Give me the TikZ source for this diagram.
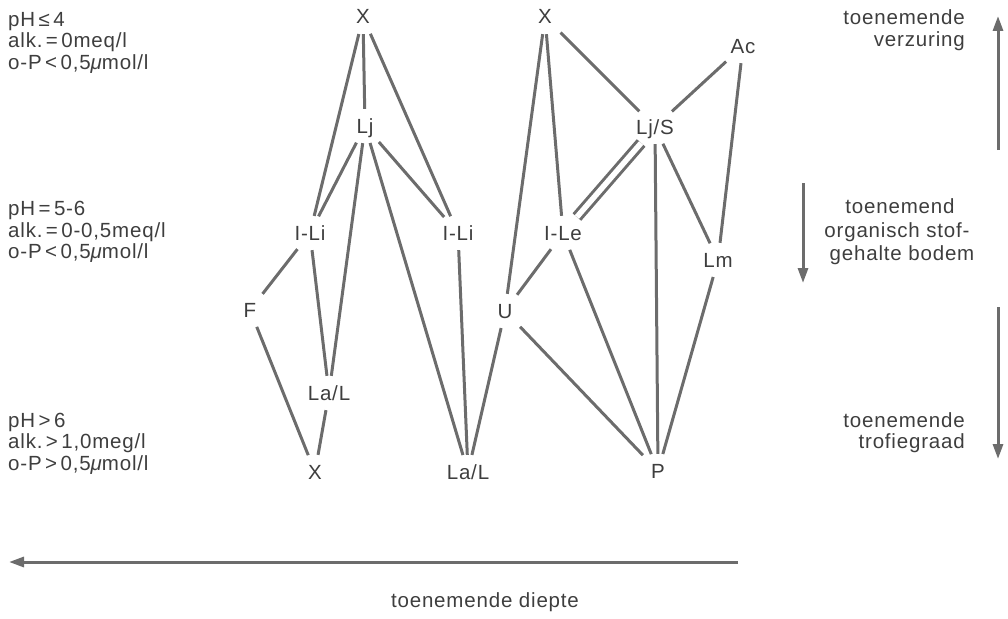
\documentclass[tikz,border=0pt]{standalone}
\usepackage{fontspec}
\setmainfont{Liberation Sans}[LetterSpace=4]
\usetikzlibrary{arrows.meta}
\definecolor{ink}{RGB}{62,62,62}
\definecolor{wire}{RGB}{108,108,108}
\begin{document}
\begin{tikzpicture}[x=1pt,y=-1pt,
  every node/.style={font=\fontsize{20.5}{22}\selectfont, text=ink},
  veg/.style={inner sep=5pt, text height=14pt, text depth=0pt},
  lbl/.style={inner sep=0pt},
  link/.style={draw=wire, line width=3pt, shorten >=5pt, shorten <=5pt},
  dlink/.style={draw=wire, line width=3pt, double=white, double distance=5.5pt, shorten >=5pt, shorten <=5pt},
  arr/.style={draw=wire, line width=3pt, -{Triangle[length=15pt,width=10pt]}}
]
\useasboundingbox (0,0) rectangle (1008,618);

% nodes left group
\node[veg] (X1) at (363,17) {X};
\node[veg] (Lj) at (365,126) {Lj};
\node[veg] (ILi1) at (310,233) {I-Li};
\node[veg] (ILi2) at (458,233) {I-Li};
\node[veg] (F) at (250,310) {F};
\node[veg] (LaL1) at (329,393) {La/L};
\node[veg] (X2) at (315,472) {X};
\node[veg] (LaL2) at (468,472) {La/L};
% nodes right group
\node[veg] (X3) at (545,17) {X};
\node[veg] (Ac) at (743,46) {Ac};
\node[veg] (LjS) at (655,127) {Lj/S};
\node[veg] (ILe) at (563,233) {I-Le};
\node[veg] (Lm) at (718,260) {Lm};
\node[veg] (U) at (505,311) {U};
\node[veg] (P) at (658,471) {P};

% connectors
\draw[link] (X1) -- (Lj);
\draw[link] (X1) -- (ILi1);
\draw[link] (X1) -- (ILi2);
\draw[link] (Lj) -- (ILi1);
\draw[link] (Lj) -- (ILi2);
\draw[link] (Lj) -- (LaL1);
\draw[link] (Lj) -- (LaL2);
\draw[link] (ILi1) -- (F);
\draw[link] (ILi1) -- (LaL1);
\draw[link] (F) -- (X2);
\draw[link] (LaL1) -- (X2);
\draw[link] (ILi2) -- (LaL2);
\draw[link] (U) -- (LaL2);
\draw[link] (X3) -- (U);
\draw[link] (X3) -- (ILe);
\draw[link] (X3) -- (LjS);
\draw[link] (LjS) -- (Ac);
\draw[link] (Ac) -- (Lm);
\draw[dlink] (LjS) -- (ILe);
\draw[link] (LjS) -- (P);
\draw[link] (LjS) -- (Lm);
\draw[link] (ILe) -- (U);
\draw[link] (ILe) -- (P);
\draw[link] (U) -- (P);
\draw[link] (Lm) -- (P);

% left condition labels
\node[lbl, anchor=base west] (a1) at (8,27) {pH\,≤\,4};
\node[lbl, anchor=base west] (a2) at (8,48) {alk.\,=\,0meq/l};
\node[lbl, anchor=base west] (a3) at (8,70) {o-P\,<\,0,5{\itshape μ}mol/l};
\node[lbl, anchor=base west] (b1) at (8,215) {pH\,=\,5-6};
\node[lbl, anchor=base west] (b2) at (8,237) {alk.\,=\,0-0,5meq/l};
\node[lbl, anchor=base west] (b3) at (8,258) {o-P\,<\,0,5{\itshape μ}mol/l};
\node[lbl, anchor=base west] (c1) at (8,427) {pH\,>\,6};
\node[lbl, anchor=base west] (c2) at (8,448) {alk.\,>\,1,0meg/l};
\node[lbl, anchor=base west] (c3) at (8,470) {o-P\,>\,0,5{\itshape μ}mol/l};

% right labels
\node[lbl, anchor=base east] (r1) at (965,25) {toenemende};
\node[lbl, anchor=base east] (r2) at (965,46) {verzuring};
\node[lbl, anchor=base] (r3) at (900,213) {toenemend};
\node[lbl, anchor=base] (r4) at (897,237) {organisch stof-};
\node[lbl, anchor=base] (r5) at (902,260) {gehalte bodem};
\node[lbl, anchor=base east] (r6) at (965,427) {toenemende};
\node[lbl, anchor=base east] (r7) at (965,448) {trofiegraad};
\node[lbl, anchor=base] (d1) at (485,607) {toenemende diepte};

% arrows
\coordinate (u0) at (998,150);
\coordinate (u1) at (998,16);
\coordinate (m0) at (803,183);
\coordinate (m1) at (803,283);
\coordinate (t0) at (998,307);
\coordinate (t1) at (998,459);
\coordinate (h0) at (738,562);
\coordinate (h1) at (9,562);
\draw[arr] (u0) -- (u1);
\draw[arr] (m0) -- (m1);
\draw[arr] (t0) -- (t1);
\draw[arr] (h0) -- (h1);
\end{tikzpicture}
\end{document}
